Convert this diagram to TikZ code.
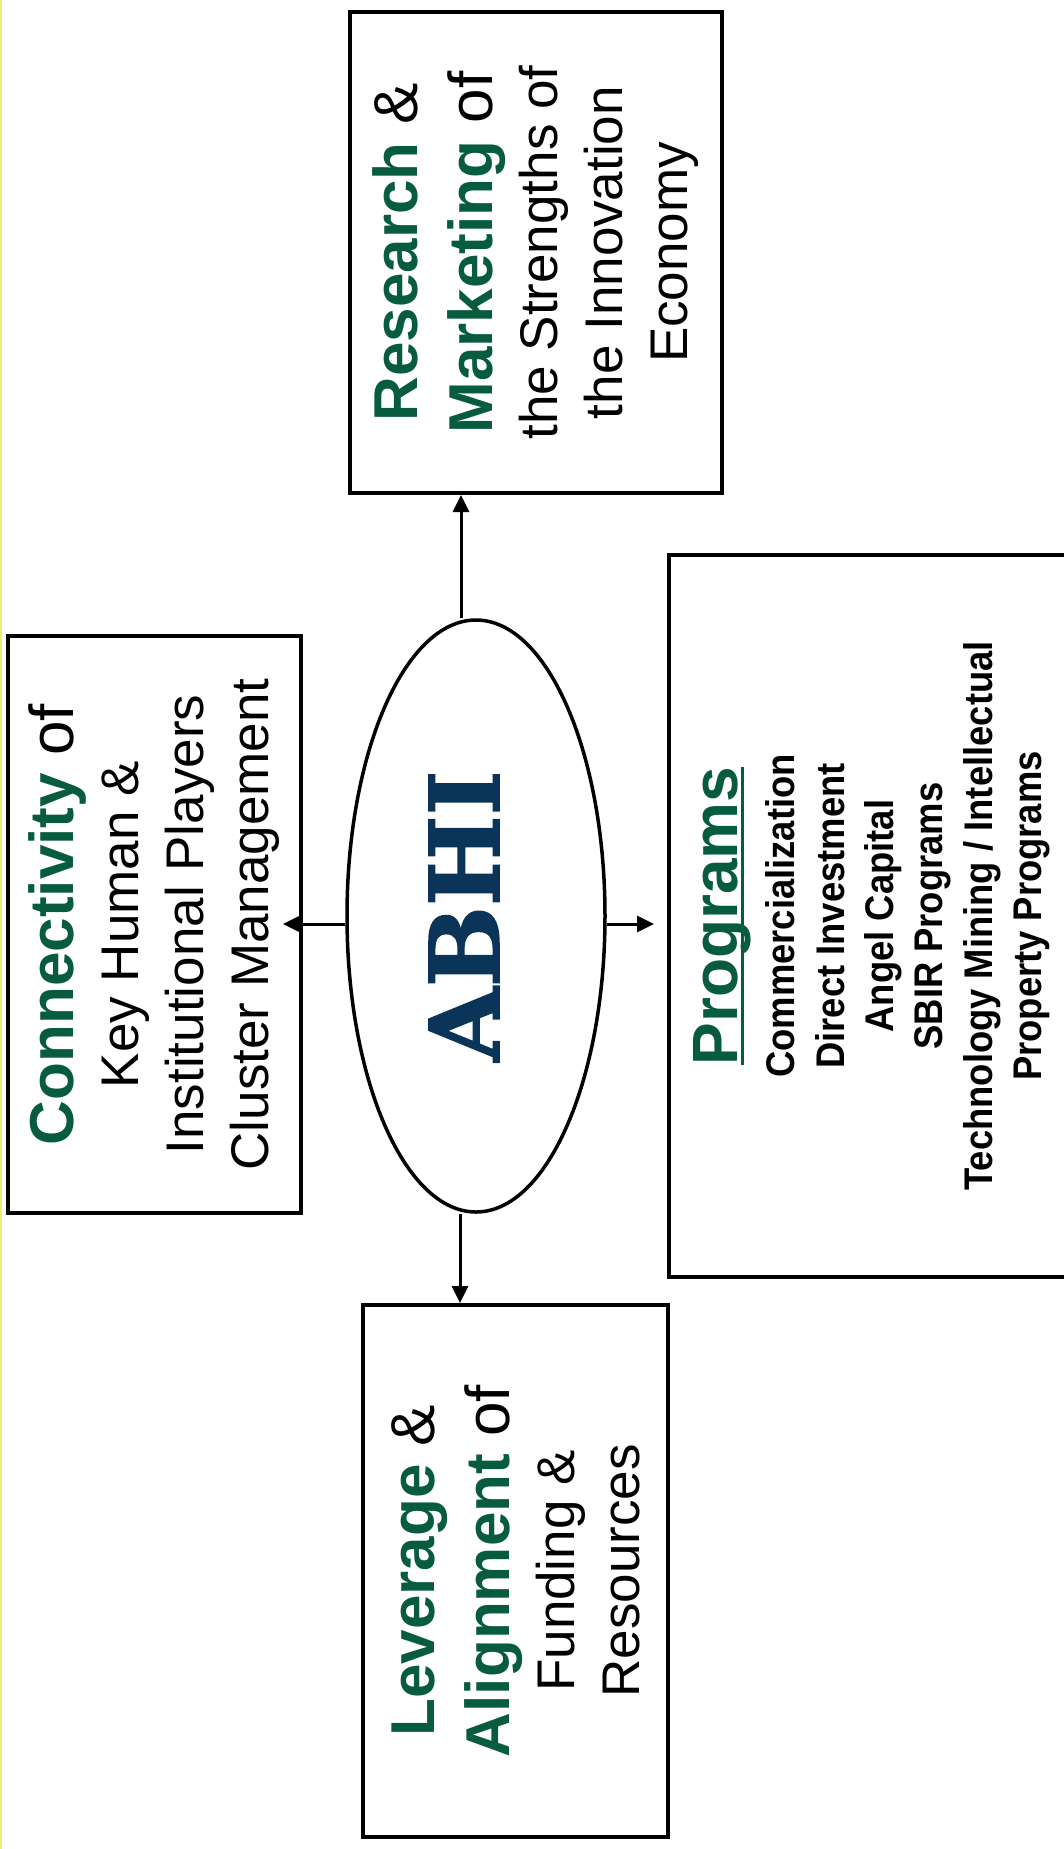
\documentclass[tikz,border=0pt]{standalone}
\usepackage{fontspec}
\setmainfont{Liberation Sans}
\newfontfamily\slabfont[BoldFeatures={FakeBold=1.6}]{DejaVu Serif}
\newfontfamily\narrowfont[FakeStretch=0.91]{Liberation Sans}
\usepackage{xcolor}
\usepackage{graphicx}
\usepackage{tikz}
\usetikzlibrary{arrows.meta,shapes.geometric}

\definecolor{abhigreen}{RGB}{6,92,60}
\definecolor{abhinavy}{RGB}{10,52,88}
\definecolor{edgeyellow}{RGB}{236,236,120}

\newcommand{\grn}[1]{\textcolor{abhigreen}{\bfseries #1}}
\newcommand{\headsize}{\fontsize{31}{37}\selectfont}
\newsavebox{\progbox}
\newcommand{\progul}[1]{\sbox{\progbox}{#1}\leavevmode\rlap{\rule[-3pt]{\wd\progbox}{1.4pt}}\usebox{\progbox}}

\begin{document}
\begin{tikzpicture}[x=0.5pt, y=-0.5pt,
  box/.style={draw, line width=2pt, rectangle, inner sep=0pt},
  oval/.style={draw, ellipse, line width=1.75pt, inner sep=0pt},
  ar/.style={-{Triangle[length=8.5pt, width=8pt]}, line width=1.5pt}]
\useasboundingbox (0,0) rectangle (1064,1849);
\draw[edgeyellow, line width=1pt] (0.5,0) -- (0.5,1849);
% the four boxes round the centre
\node[box, minimum width=186pt, minimum height=240.5pt] (research) at (536,252.5) {\rotatebox{90}{\parbox{230pt}{\centering\fontsize{26.5}{32.5}\selectfont
  {\headsize\grn{Research} \&}\\[5pt]
  {\headsize\grn{Marketing} of}\\
  the Strengths of\\ the Innovation\\ Economy}}};
\node[box, minimum width=146.5pt, minimum height=288.5pt] (conn) at (154.5,924.5) {\rotatebox{90}{\parbox{280pt}{\centering\fontsize{26.5}{32.5}\selectfont
  {\headsize\grn{Connectivity} of}\\
  Key Human \&\\ Institutional Players\\ Cluster Management}}};
\node[box, minimum width=203pt, minimum height=361pt] (progs) at (872,916) {\rotatebox{90}{\parbox{350pt}{\centering\narrowfont\bfseries\fontsize{20}{24.7}\selectfont
  {\rmfamily\fontsize{32}{38}\selectfont\color{abhigreen}\progul{Programs}}\\[3.8pt]
  Commercialization\\ Direct Investment\\ Angel Capital\\ SBIR Programs\\
  Technology Mining / Intellectual\\ Property Programs}}};
\node[box, minimum width=152.5pt, minimum height=266pt] (lever) at (515.5,1571) {\rotatebox{90}{\parbox{250pt}{\centering\fontsize{26.5}{32.5}\selectfont
  {\headsize\grn{Leverage} \&}\\[5pt]
  {\headsize\grn{Alignment} of}\\
  Funding \&\\ Resources}}};
% centre
\node[oval, minimum width=129pt, minimum height=296pt] (abhi) at (476,916) {\rotatebox{90}{\raisebox{0pt}[\height][12pt]{\textcolor{abhinavy}{\slabfont\bfseries\fontsize{48}{50}\selectfont ABHI}}}};
\draw[ar] ([xshift=-7.5pt]abhi.north) -- ([xshift=-7.5pt]abhi.north |- research.south);
\draw[ar] ([xshift=-8pt]abhi.south) -- ([xshift=-8pt]abhi.south |- lever.north);
\draw[ar, shorten >=-10pt] ([yshift=-4pt]abhi.west) -- ([yshift=-4pt]abhi.west -| conn.east);
\draw[ar, shorten >=6.5pt] ([yshift=-4pt]abhi.east) -- ([yshift=-4pt]abhi.east -| progs.west);
\end{tikzpicture}
\end{document}
